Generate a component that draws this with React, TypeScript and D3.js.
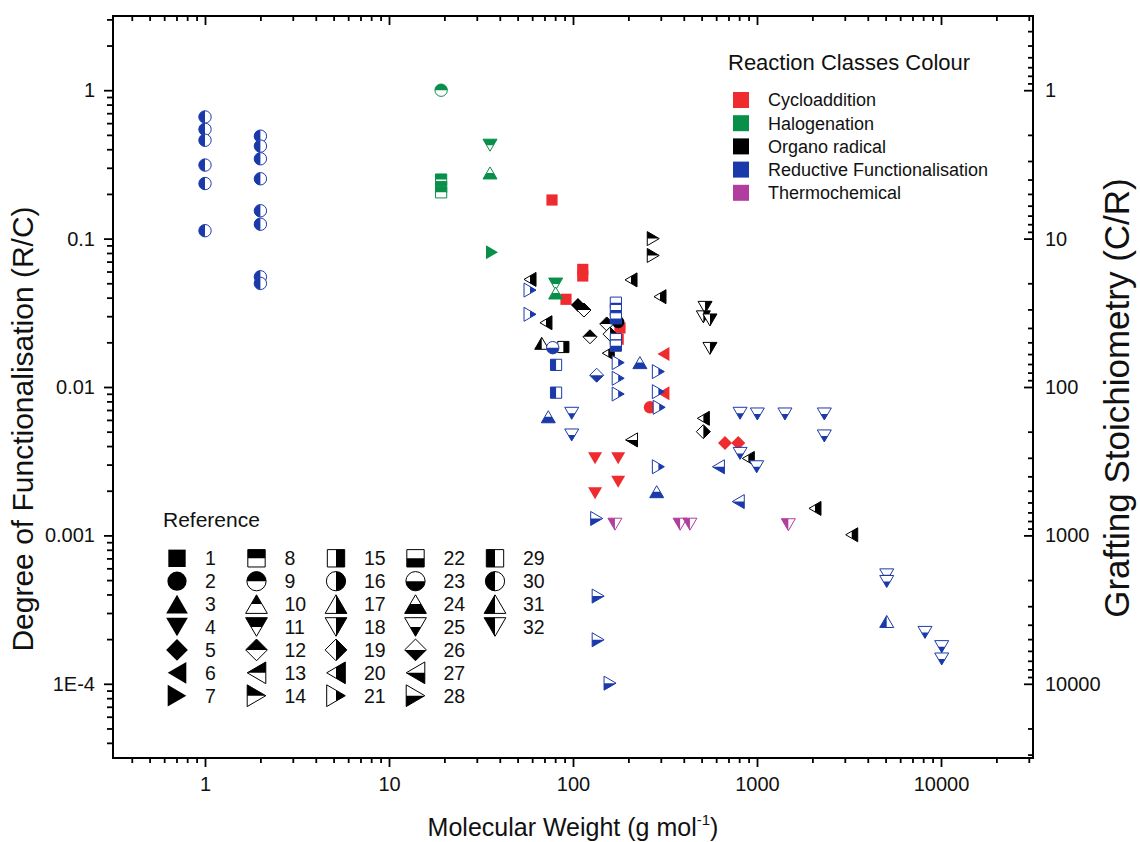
import React, { useRef, useEffect } from 'react'
import * as d3 from 'd3'

const classNames = ['Cycloaddition', 'Halogenation', 'Organo radical', 'Reductive Functionalisation', 'Thermochemical']
const classColours = ['#ee2b2f', '#08904a', '#000000', '#1b3aa9', '#b13e9f']

// [molecular weight (g/mol), degree of functionalisation (R/C), reference number]
const cycloaddition = [
  [76.9, 0.182, 1], [113, 0.062, 1], [113, 0.056, 1], [91.6, 0.039, 1],
  [180, 0.025, 1], [176, 0.021, 1],
  [310, 0.0167, 6], [310, 0.00906, 6], [262, 0.0073, 2],
  [670, 0.0042, 5], [791, 0.0042, 5],
  [131.8, 0.00331, 4], [176, 0.00331, 4], [176, 0.0023, 4], [131.8, 0.00192, 4],
]

const halogenation = [
  [19.2, 1.0, 9], [19.2, 0.25, 8], [19.2, 0.222, 8], [19.2, 0.205, 8],
  [35.4, 0.426, 11], [35.4, 0.277, 24], [36.3, 0.081, 7],
  [80.5, 0.0494, 11], [80.5, 0.043, 24],
]

const organoRadical = [
  [273, 0.1, 14], [273, 0.077, 14],
  [58.4, 0.0531, 20], [206.7, 0.0527, 20], [297, 0.0406, 20],
  [106.4, 0.0357, 5], [114.7, 0.033, 12],
  [71.3, 0.0271, 20], [67.6, 0.0197, 31], [88.6, 0.0186, 15],
  [123.7, 0.0218, 12], [152.5, 0.0266, 12], [176, 0.0274, 2], [159, 0.0227, 19],
  [155.5, 0.0169, 20],
  [522, 0.0344, 18], [511, 0.0297, 18], [555, 0.0283, 18], [555, 0.0182, 18],
  [511, 0.00615, 20], [511, 0.005, 19], [208, 0.0044, 27],
  [897, 0.0033, 20], [2066, 0.00152, 20], [3272, 0.00101, 20],
]

const reductive = [
  [1, 0.66, 30], [1, 0.545, 30], [1, 0.46, 30], [1, 0.313, 30], [1, 0.235, 30], [1, 0.113, 30],
  [2, 0.49, 30], [2, 0.42, 30], [2, 0.345, 30], [2, 0.253, 30], [2, 0.154, 30], [2, 0.125, 30],
  [2, 0.0553, 30], [2, 0.0499, 30],
  [58.4, 0.045, 21], [58.4, 0.0309, 21], [77.6, 0.0184, 23],
  [80.9, 0.0141, 29], [80.9, 0.00916, 29],
  [171, 0.037, 22], [171, 0.033, 22], [171, 0.029, 22], [171, 0.021, 22], [171, 0.019, 22],
  [134.5, 0.012, 26],
  [176, 0.0146, 21], [176, 0.01145, 21], [176, 0.00897, 21], [231, 0.0146, 24],
  [291, 0.0127, 21], [291, 0.0093, 21], [294, 0.0073, 21],
  [73.4, 0.0063, 24], [98.4, 0.00665, 25], [98.4, 0.00475, 25],
  [809, 0.00665, 25], [1004, 0.00658, 25], [1419, 0.00658, 25], [2322, 0.00658, 25], [2322, 0.00468, 25],
  [809, 0.00357, 25], [996, 0.0029, 25],
  [291, 0.0029, 21], [285, 0.00197, 24], [617, 0.0029, 27], [791, 0.00169, 27],
  [134.5, 0.0013, 28], [137, 0.00039, 28], [137, 0.000198, 28], [159, 0.000101, 28],
  [5070, 0.000542, 25], [5070, 0.000489, 25], [5070, 0.000263, 31],
  [8185, 0.000222, 25], [10090, 0.000178, 25], [10090, 0.000147, 25],
]

const thermochemical = [
  [169, 0.00119, 32], [382, 0.00119, 32], [432, 0.00119, 32], [1480, 0.00118, 32],
]

const seriesByClass = [cycloaddition, halogenation, organoRadical, reductive, thermochemical]

const xTickValues = [1, 10, 100, 1000, 10000]
const xTickLabels = ['1', '10', '100', '1000', '10000']
const yTickValues = [0.0001, 0.001, 0.01, 0.1, 1]
const yTickLabels = ['1E-4', '0.001', '0.01', '0.1', '1']
const rightTickValues = [1, 10, 100, 1000, 10000]
const rightTickLabels = ['1', '10', '100', '1000', '10000']

const referenceNumbers = [
  [1, 2, 3, 4, 5, 6, 7],
  [8, 9, 10, 11, 12, 13, 14],
  [15, 16, 17, 18, 19, 20, 21],
  [22, 23, 24, 25, 26, 27, 28],
  [29, 30, 31, 32],
]

const FONT = '"Liberation Sans", Arial, sans-serif'

// symbol outline for a kind: 0 square,1 circle,2 up,3 down,4 diamond,5 left,6 right
function shapePath(kind, s) {
  const h = 6 * s, w = 7 * s
  switch (kind) {
    case 0: { const q = 5.6 * s; return `M${-q},${-q}H${q}V${q}H${-q}Z` }
    case 1: { const r = 6.2 * s; return `M${r},0A${r},${r} 0 1,1 ${-r},0A${r},${r} 0 1,1 ${r},0Z` }
    case 2: return `M0,${-h}L${w},${h}L${-w},${h}Z`
    case 3: return `M0,${h}L${w},${-h}L${-w},${-h}Z`
    case 4: return `M0,${-w}L${w},0L0,${w}L${-w},0Z`
    case 5: return `M${-h},0L${h},${-w}L${h},${w}Z`
    default: return `M${h},0L${-h},${-w}L${-h},${w}Z`
  }
}

function drawMarker(g, ref, colour, s) {
  const kind = ref <= 28 ? (ref - 1) % 7 : ref - 29
  const mode = ref <= 7 ? 'full' : ref <= 14 ? 'top' : ref <= 21 ? 'right' : ref <= 28 ? 'bottom' : 'left'
  const d = shapePath(kind, s)
  if (mode === 'full') {
    g.append('path').attr('d', d).attr('fill', colour)
    return
  }
  g.append('path').attr('d', d).attr('fill', '#fff')
  g.append('path').attr('d', d).attr('fill', colour).attr('clip-path', `url(#clip-${mode})`)
  g.append('path').attr('d', d).attr('fill', 'none').attr('stroke', colour).attr('stroke-width', 1)
}

function minorTicks(lo, hi) {
  const out = []
  for (let k = Math.floor(Math.log10(lo)); k <= Math.ceil(Math.log10(hi)); k++) {
    for (let m = 2; m <= 9; m++) {
      const v = m * Math.pow(10, k)
      if (v >= lo && v <= hi) out.push(v)
    }
  }
  return out
}

function App() {
  const svgRef = useRef(null)

  useEffect(() => {
    const svg = d3.select(svgRef.current)
    svg.selectAll('*').remove()

    const left = 113, right = 1033, top = 16, bottom = 758
    const x = d3.scaleLog().domain([Math.pow(10, -0.5), Math.pow(10, 4.5)]).range([left, right])
    const y = d3.scaleLog().domain([Math.pow(10, -4.5), Math.pow(10, 0.5)]).range([bottom, top])
    const yRight = d3.scaleLog().domain([Math.pow(10, 4.5), Math.pow(10, -0.5)]).range([bottom, top])

    const defs = svg.append('defs')
    const clips = { top: [-40, -40, 80, 40], bottom: [-40, 0, 80, 40], left: [-40, -40, 40, 80], right: [0, -40, 40, 80] }
    Object.entries(clips).forEach(([k, r]) => {
      defs.append('clipPath').attr('id', `clip-${k}`)
        .append('rect').attr('x', r[0]).attr('y', r[1]).attr('width', r[2]).attr('height', r[3])
    })

    const xMinor = minorTicks(x.domain()[0], x.domain()[1])
    const yMinor = minorTicks(y.domain()[0], y.domain()[1])

    const styleAxis = sel => {
      sel.selectAll('line').attr('stroke', '#000').attr('stroke-width', 1.8)
      sel.selectAll('text').attr('font-family', FONT).attr('font-size', 20).attr('fill', '#111')
    }

    // bottom
    svg.append('g').attr('transform', `translate(0,${bottom})`)
      .call(d3.axisBottom(x).tickValues(xTickValues).tickFormat((d, i) => xTickLabels[i]).tickSize(9).tickPadding(10).tickSizeOuter(0))
      .call(styleAxis).call(g => g.select('.domain').remove())
    svg.append('g').attr('transform', `translate(0,${bottom})`)
      .call(d3.axisBottom(x).tickValues(xMinor).tickFormat(() => '').tickSize(5).tickSizeOuter(0))
      .call(styleAxis).call(g => g.select('.domain').remove())
    // top (inward)
    svg.append('g').attr('transform', `translate(0,${top})`)
      .call(d3.axisBottom(x).tickValues(xTickValues).tickFormat(() => '').tickSize(9).tickSizeOuter(0))
      .call(styleAxis).call(g => g.select('.domain').remove())
    svg.append('g').attr('transform', `translate(0,${top})`)
      .call(d3.axisBottom(x).tickValues(xMinor).tickFormat(() => '').tickSize(5).tickSizeOuter(0))
      .call(styleAxis).call(g => g.select('.domain').remove())
    // left
    svg.append('g').attr('transform', `translate(${left},0)`)
      .call(d3.axisLeft(y).tickValues(yTickValues).tickFormat((d, i) => yTickLabels[i]).tickSize(9).tickPadding(9).tickSizeOuter(0))
      .call(styleAxis).call(g => g.select('.domain').remove())
    svg.append('g').attr('transform', `translate(${left},0)`)
      .call(d3.axisLeft(y).tickValues(yMinor).tickFormat(() => '').tickSize(6).tickSizeOuter(0))
      .call(styleAxis).call(g => g.select('.domain').remove())
    // right (inward ticks, labels outside)
    const rMinor = minorTicks(yRight.domain()[1], yRight.domain()[0])
    svg.append('g').attr('transform', `translate(${right},0)`)
      .call(d3.axisRight(yRight).tickValues(rightTickValues).tickFormat((d, i) => rightTickLabels[i]).tickSize(-9).tickPadding(12).tickSizeOuter(0))
      .call(styleAxis).call(g => g.select('.domain').remove())
    svg.append('g').attr('transform', `translate(${right},0)`)
      .call(d3.axisRight(yRight).tickValues(rMinor).tickFormat(() => '').tickSize(-5).tickSizeOuter(0))
      .call(styleAxis).call(g => g.select('.domain').remove())

    svg.append('rect').attr('x', left).attr('y', top).attr('width', right - left).attr('height', bottom - top)
      .attr('fill', 'none').attr('stroke', '#000').attr('stroke-width', 2)

    // axis titles
    const xt = svg.append('text').attr('x', (left + right) / 2).attr('y', 836).attr('text-anchor', 'middle')
      .attr('font-family', FONT).attr('font-size', 25).attr('fill', '#111')
    xt.append('tspan').text('Molecular Weight (g mol')
    xt.append('tspan').attr('font-size', 15).attr('dy', -11).text('-1')
    xt.append('tspan').attr('dy', 11).text(')')

    svg.append('text').attr('transform', `translate(33,429) rotate(-90)`).attr('text-anchor', 'middle')
      .attr('font-family', FONT).attr('font-size', 30).attr('fill', '#111').text('Degree of Functionalisation (R/C)')
    svg.append('text').attr('transform', `translate(1129,398) rotate(-90)`).attr('text-anchor', 'middle')
      .attr('font-family', FONT).attr('font-size', 35).attr('fill', '#111').text('Grafting Stoichiometry (C/R)')

    // data
    const pts = svg.append('g')
    seriesByClass.forEach((series, ci) => {
      series.forEach(([mw, dof, ref]) => {
        const g = pts.append('g').attr('transform', `translate(${x(mw)},${y(dof)})`)
        drawMarker(g, ref, classColours[ci], 1)
      })
    })

    // colour legend
    const cl = svg.append('g')
    cl.append('text').attr('x', 728).attr('y', 70).attr('font-family', FONT).attr('font-size', 22).attr('fill', '#111')
      .text('Reaction Classes Colour')
    classNames.forEach((name, i) => {
      const cy = 100 + i * 23.2
      cl.append('rect').attr('x', 733).attr('y', cy - 8).attr('width', 16).attr('height', 16).attr('fill', classColours[i])
      cl.append('text').attr('x', 768).attr('y', cy).attr('dy', '0.36em').attr('font-family', FONT).attr('font-size', 18)
        .attr('fill', '#111').text(name)
    })

    // reference legend
    const rl = svg.append('g')
    rl.append('text').attr('x', 163).attr('y', 527).attr('font-family', FONT).attr('font-size', 21).attr('fill', '#111')
      .text('Reference')
    referenceNumbers.forEach((col, c) => {
      col.forEach((ref, r) => {
        const sx = 177 + c * 79.5, sy = 558.3 + r * 22.9
        const g = rl.append('g').attr('transform', `translate(${sx},${sy})`)
        drawMarker(g, ref, '#000', 1.55)
        rl.append('text').attr('x', sx + 28).attr('y', sy).attr('dy', '0.36em').attr('font-family', FONT)
          .attr('font-size', 19.5).attr('fill', '#111').text(ref)
      })
    })
  }, [])

  return (
    <svg ref={svgRef} width={1140} height={842} style={{ position: 'absolute', left: 0, top: 0, background: '#fff' }} />
  )
}

export default App
